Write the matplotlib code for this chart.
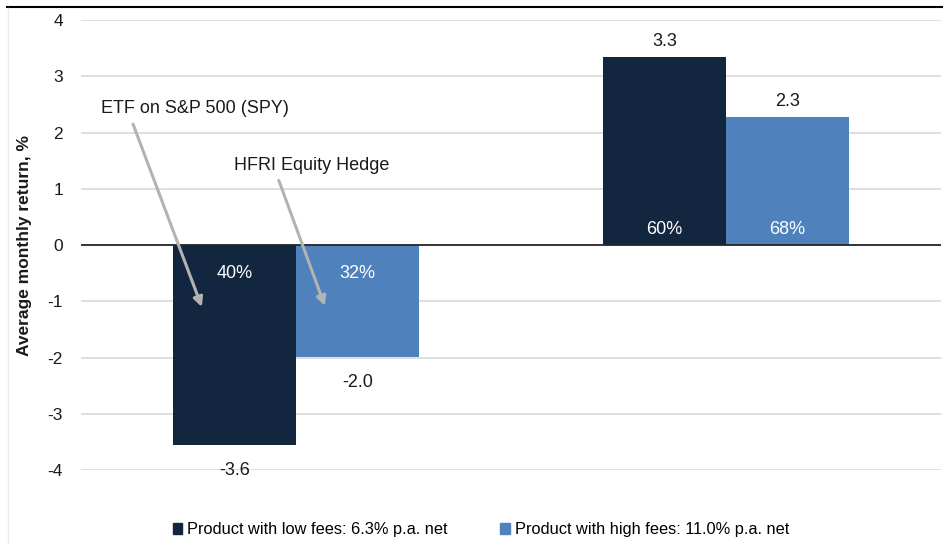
import matplotlib
matplotlib.use('Agg')
import matplotlib.pyplot as plt
from matplotlib.lines import Line2D
import numpy as np

plt.rcParams['font.family'] = ['Liberation Sans', 'DejaVu Sans']

# 데이터
groups = ['Down months', 'Up months']
low_fee = [-3.55, 3.34]
high_fee = [-1.99, 2.28]
low_labels = ['-3.6', '3.3']
high_labels = ['-2.0', '2.3']
low_share = ['40%', '60%']
high_share = ['32%', '68%']
legend_labels = ['Product with low fees: 6.3% p.a. net',
                 'Product with high fees: 11.0% p.a. net']
y_ticks = [-4, -3, -2, -1, 0, 1, 2, 3, 4]

NAVY = '#12263f'
BLUE = '#4f81bd'
GRID = '#d9d9d9'
TEXT = '#1a1a1a'

fig = plt.figure(figsize=(9.43, 5.44), dpi=100, facecolor='white')
ax = fig.add_axes([0.0859, 0.136, 0.912, 0.827])

x = np.arange(len(groups))
w = 0.285
b1 = ax.bar(x - w / 2, low_fee, w, color=NAVY, label=legend_labels[0], zorder=3)
b2 = ax.bar(x + w / 2, high_fee, w, color=BLUE, label=legend_labels[1], zorder=3)

ax.set_xlim(-0.5, 1.5)
ax.set_ylim(-4, 4)
ax.set_yticks(y_ticks)
ax.set_yticklabels([str(t) for t in y_ticks], fontsize=12.5, color=TEXT)
ax.tick_params(axis='y', length=0, pad=13)
ax.set_xticks([])
ax.grid(axis='y', color=GRID, linewidth=1.2, zorder=0)
ax.axhline(0, color='#262626', linewidth=1.3, zorder=4)
for s in ax.spines.values():
    s.set_visible(False)

ax.set_ylabel('Average monthly return, %', fontsize=12.5, fontweight='bold', color=TEXT)
ax.yaxis.set_label_coords(-0.057, 0.5)

# 값 레이블
for bars, labs in ((b1, low_labels), (b2, high_labels)):
    for bar, lab in zip(bars, labs):
        h = bar.get_height()
        cx = bar.get_x() + bar.get_width() / 2
        if h >= 0:
            ax.text(cx, h + 0.12, lab, ha='center', va='bottom', fontsize=13, color=TEXT)
        else:
            ax.text(cx, h - 0.3, lab, ha='center', va='top', fontsize=13, color=TEXT)

# 막대 안 비율
for bars, labs in ((b1, low_share), (b2, high_share)):
    for bar, lab in zip(bars, labs):
        h = bar.get_height()
        cx = bar.get_x() + bar.get_width() / 2
        yy = -0.5 if h < 0 else 0.28
        ax.text(cx, yy, lab, ha='center', va='center', fontsize=13, color='white', zorder=5)

# 주석 화살표
arrow = dict(arrowstyle='-|>', color='#b3b3b3', lw=2.2, mutation_scale=14, shrinkA=0, shrinkB=0)
left0 = x[0] - w
ax.annotate('', xy=(left0 + 0.066, -1.1), xytext=(left0 - 0.094, 2.15),
            arrowprops=arrow, zorder=6)
ax.text(left0 + 0.05, 2.42, 'ETF on S&P 500 (SPY)', ha='center', va='center',
        fontsize=13, color=TEXT)
ax.annotate('', xy=(x[0] + 0.067, -1.08), xytext=(x[0] - 0.04, 1.15),
            arrowprops=arrow, zorder=6)
ax.text(x[0] + 0.037, 1.42, 'HFRI Equity Hedge', ha='center', va='center',
        fontsize=13, color=TEXT)

# 범례
handles = [plt.Rectangle((0, 0), 1, 1, color=NAVY), plt.Rectangle((0, 0), 1, 1, color=BLUE)]
fig.legend(handles, legend_labels, loc='center', bbox_to_anchor=(0.51, 0.026), ncol=2,
           frameon=False, fontsize=11.8, handlelength=0.6, handleheight=0.6,
           handletextpad=0.3, columnspacing=3.2)

# 위쪽 테두리 선
fig.add_artist(Line2D([0.007, 1.0], [1 - 7 / 544, 1 - 7 / 544], color='black', lw=1.5))
fig.add_artist(Line2D([0.0085, 0.0085], [0.0, 1 - 8 / 544], color='#ebebeb', lw=1))

fig.savefig('out.png', dpi=100, facecolor='white')
